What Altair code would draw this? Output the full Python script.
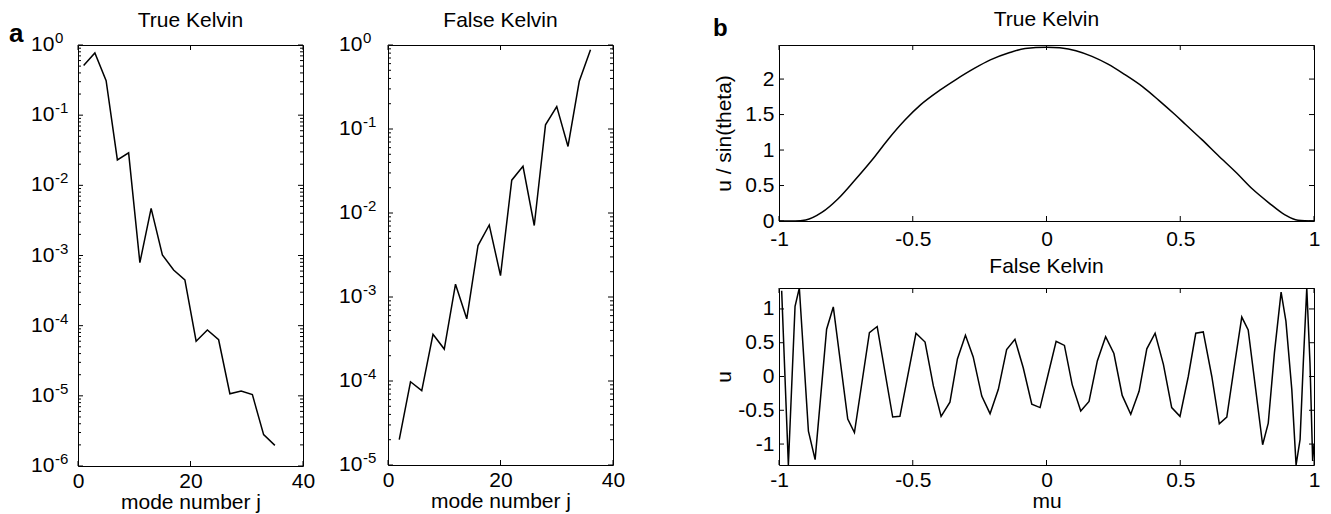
import altair as alt
import pandas as pd

FONT = "Liberation Sans"
FS = 21

# ---------------- data: panel a ----------------
true_j = [1, 3, 5, 7, 9, 11, 13, 15, 17, 19, 21, 23, 25, 27, 29, 31, 33, 35]
true_amp = [0.51, 0.77, 0.31, 0.023, 0.029, 0.00079, 0.0047, 0.00102, 0.00062, 0.00045,
            6.0e-5, 8.7e-5, 6.3e-5, 1.07e-5, 1.17e-5, 1.04e-5, 2.8e-6, 1.97e-6]
false_j = [2, 4, 6, 8, 10, 12, 14, 16, 18, 20, 22, 24, 26, 28, 30, 32, 34, 36]
false_amp = [2.0e-5, 9.8e-5, 7.7e-5, 3.6e-4, 2.4e-4, 1.42e-3, 5.5e-4, 4.1e-3, 7.2e-3, 1.8e-3,
             0.0246, 0.036, 0.0071, 0.112, 0.185, 0.062, 0.37, 0.88]

# ---------------- data: panel b ----------------
mu_top = [-1.0, -0.94, -0.90, -0.84, -0.78, -0.72, -0.65, -0.59, -0.53, -0.47, -0.40, -0.34,
          -0.27, -0.21, -0.14, -0.08, 0.0, 0.05, 0.11, 0.17, 0.23, 0.29, 0.36, 0.42, 0.48,
          0.52, 0.58, 0.64, 0.71, 0.77, 0.83, 0.89, 0.94, 1.0]
u_top = [0.0, 0.0, 0.014, 0.12, 0.31, 0.56, 0.87, 1.16, 1.42, 1.64, 1.84, 1.99,
         2.15, 2.27, 2.37, 2.43, 2.45, 2.44, 2.40, 2.32, 2.21, 2.07, 1.89, 1.70, 1.50,
         1.36, 1.15, 0.93, 0.68, 0.45, 0.26, 0.09, 0.01, 0.0]

mu_bot = [-0.99, -0.965, -0.94, -0.924, -0.89, -0.865, -0.822, -0.797, -0.743, -0.718,
          -0.662, -0.633, -0.575, -0.548, -0.488, -0.454, -0.423, -0.394, -0.361, -0.333,
          -0.303, -0.274, -0.242, -0.211, -0.180, -0.149, -0.118, -0.087, -0.055, -0.024,
          0.006, 0.036, 0.067, 0.096, 0.128, 0.159, 0.190, 0.221, 0.252, 0.283, 0.315,
          0.346, 0.375, 0.406, 0.437, 0.468, 0.499, 0.530, 0.558, 0.586, 0.618, 0.646,
          0.674, 0.702, 0.730, 0.754, 0.782, 0.808, 0.829, 0.852, 0.877, 0.895, 0.917,
          0.933, 0.948, 0.960, 0.973, 0.985, 0.995, 1.0]
u_bot = [1.27, -1.31, 1.04, 1.31, -0.81, -1.23, 0.70, 1.03, -0.63, -0.83,
         0.65, 0.74, -0.60, -0.59, 0.64, 0.51, -0.14, -0.59, -0.38, 0.26,
         0.61, 0.29, -0.29, -0.55, -0.19, 0.40, 0.55, 0.13, -0.41, -0.46,
         0.03, 0.52, 0.46, -0.12, -0.51, -0.37, 0.23, 0.59, 0.34, -0.28, -0.56,
         -0.22, 0.41, 0.64, 0.18, -0.46, -0.59, 0.0, 0.64, 0.66, 0.0, -0.70,
         -0.60, 0.15, 0.88, 0.69, -0.19, -1.01, -0.69, 0.35, 1.25, 0.82, -0.19,
         -1.31, -0.93, 0.20, 1.31, 0.20, -1.25, -1.0]

# ---------------- ticks & labels ----------------
a_xticks = [0, 20, 40]
true_decades = [1, 1e-1, 1e-2, 1e-3, 1e-4, 1e-5, 1e-6]
true_exps = ["0", "-1", "-2", "-3", "-4", "-5", "-6"]
false_decades = [1, 1e-1, 1e-2, 1e-3, 1e-4, 1e-5]
false_exps = ["0", "-1", "-2", "-3", "-4", "-5"]
minor_mult = [2, 3, 4, 5, 6, 7, 8, 9]
b_xticks = [-1, -0.5, 0, 0.5, 1]
b_top_yticks = [0, 0.5, 1, 1.5, 2]
b_bot_yticks = [-1, -0.5, 0, 0.5, 1]

INK = "black"
SIGNED = "(datum.value < 0 ? '-' : '') + format(abs(datum.value), '')"

xaxis_style = dict(labelFontSize=FS, labelFont=FONT, labelColor=INK, ticks=False, domain=False,
                   grid=False, labelPadding=4, labelFlush=False, labelOverlap=False,
                   titleFont=FONT, titleFontSize=FS, titleFontWeight="normal",
                   titleColor=INK, titlePadding=0)


def yaxis_style(H):
    return dict(labelFontSize=FS, labelFont=FONT, labelColor=INK, ticks=False, domain=False,
                grid=False, labelPadding=5, labelFlush=False, labelOverlap=False, labelExpr=SIGNED,
                titleFont=FONT, titleFontSize=FS, titleFontWeight="normal", titleColor=INK,
                titleAngle=270, titleBaseline="middle", titleX=-55, titleY=H / 2)


def xrules(values, scale, H, L, axis=True):
    base = alt.Chart(pd.DataFrame({"v": values})).mark_rule(color=INK, strokeWidth=1)
    enc = alt.X("v:Q", scale=scale) if axis else alt.X("v:Q", scale=scale, axis=None)
    return [base.encode(x=enc, y=alt.value(H), y2=alt.value(H - L)),
            base.encode(x=enc, y=alt.value(0), y2=alt.value(L))]


def yrules(values, scale, W, L, axis=True):
    base = alt.Chart(pd.DataFrame({"v": values})).mark_rule(color=INK, strokeWidth=1)
    enc = alt.Y("v:Q", scale=scale) if axis else alt.Y("v:Q", scale=scale, axis=None)
    return [base.encode(y=enc, x=alt.value(0), x2=alt.value(L)),
            base.encode(y=enc, x=alt.value(W), x2=alt.value(W - L))]


def label(text, dx, dy, size, bold=False, align="left"):
    return alt.Chart(pd.DataFrame({"t": [text]})).mark_text(
        align=align, baseline="alphabetic", fontSize=size,
        fontWeight="bold" if bold else "normal", font=FONT, color=INK
    ).encode(x=alt.value(dx), y=alt.value(dy), text="t:N")


def log_panel(j, amp, decades, exps, ttl, W, H, label_dx, extra=None):
    xs = alt.Scale(domain=[0, 40], nice=False, zero=False)
    ys = alt.Scale(type="log", domain=[min(decades), max(decades)], nice=False)
    df = pd.DataFrame({"j": j, "amp": amp})
    line = alt.Chart(df).mark_line(color=INK, strokeWidth=1.5).encode(
        x=alt.X("j:Q", scale=xs, axis=alt.Axis(values=a_xticks, title="mode number j", **xaxis_style)),
        y=alt.Y("amp:Q", scale=ys, axis=None),
    )
    minors = [m * d for d in decades if d < 1 for m in minor_mult]
    dec = pd.DataFrame({"v": decades, "e": exps})
    ten = alt.Chart(dec).mark_text(align="left", baseline="middle", fontSize=FS, font=FONT, color=INK).encode(
        y=alt.Y("v:Q", scale=ys, axis=None), x=alt.value(label_dx), text=alt.value("10"))
    sup = alt.Chart(dec).mark_text(align="left", baseline="middle", fontSize=15, font=FONT, color=INK, dy=-7).encode(
        y=alt.Y("v:Q", scale=ys, axis=None), x=alt.value(label_dx + 24), text="e:N")
    layers = ([line] + xrules(a_xticks, xs, H, 5) + yrules(decades, ys, W, 5, axis=False)
              + yrules(minors, ys, W, 3, axis=False) + [ten, sup, label(ttl, W / 2, -18, FS, align="center")])
    if extra is not None:
        layers.append(extra)
    return alt.layer(*layers).properties(width=W, height=H)


a1 = log_panel(true_j, true_amp, true_decades, true_exps, "True Kelvin", 225, 421, -47,
               extra=label("a", -69, -3, 26, bold=True))
a2 = log_panel(false_j, false_amp, false_decades, false_exps, "False Kelvin", 225, 420, -49)

xs_b = alt.Scale(domain=[-1, 1], nice=False, zero=False)
W_B = 535

# b top
H_B1 = 176
ys_b1 = alt.Scale(domain=[0, 2.48], nice=False, zero=False)
b1_xstyle = {k: v for k, v in xaxis_style.items() if not k.startswith("title")}
b1_xstyle["labelPadding"] = 7
b1_line = alt.Chart(pd.DataFrame({"mu": mu_top, "u": u_top})).mark_line(
    color=INK, strokeWidth=1.5, interpolate="monotone").encode(
    x=alt.X("mu:Q", scale=xs_b, axis=alt.Axis(values=b_xticks, title=None, labelExpr=SIGNED, **b1_xstyle)),
    y=alt.Y("u:Q", scale=ys_b1, axis=alt.Axis(values=b_top_yticks, title="u / sin(theta)", **yaxis_style(H_B1))),
)
b1 = alt.layer(b1_line, *xrules(b_xticks, xs_b, H_B1, 5), *yrules(b_top_yticks, ys_b1, W_B, 5),
               label("True Kelvin", W_B / 2, -19, FS, align="center"),
               label("b", -66, -9, 24, bold=True)).properties(width=W_B, height=H_B1)

# b bottom
H_B2 = 177
ys_b2 = alt.Scale(domain=[-1.31, 1.31], nice=False, zero=False)
b2_line = alt.Chart(pd.DataFrame({"mu": mu_bot, "u": u_bot})).mark_line(color=INK, strokeWidth=1.5, clip=True).encode(
    x=alt.X("mu:Q", scale=xs_b, axis=alt.Axis(values=b_xticks, title="mu", labelExpr=SIGNED, **xaxis_style)),
    y=alt.Y("u:Q", scale=ys_b2, axis=alt.Axis(values=b_bot_yticks, title="u", **yaxis_style(H_B2))),
)
b2 = alt.layer(b2_line, *xrules(b_xticks, xs_b, H_B2, 5), *yrules(b_bot_yticks, ys_b2, W_B, 5),
               label("False Kelvin", W_B / 2, -15, FS, align="center")).properties(width=W_B, height=H_B2)

bcol = alt.vconcat(b1, b2, spacing=67, bounds="flush")
inner = alt.hconcat(a2, bcol, spacing=166, bounds="flush")
chart = alt.hconcat(a1, inner, spacing=85, bounds="flush").properties(
    padding=0, background="white"
).configure_view(stroke=INK, strokeWidth=1)

chart.save("out.html", embed_options={"renderer": "svg", "actions": False})
